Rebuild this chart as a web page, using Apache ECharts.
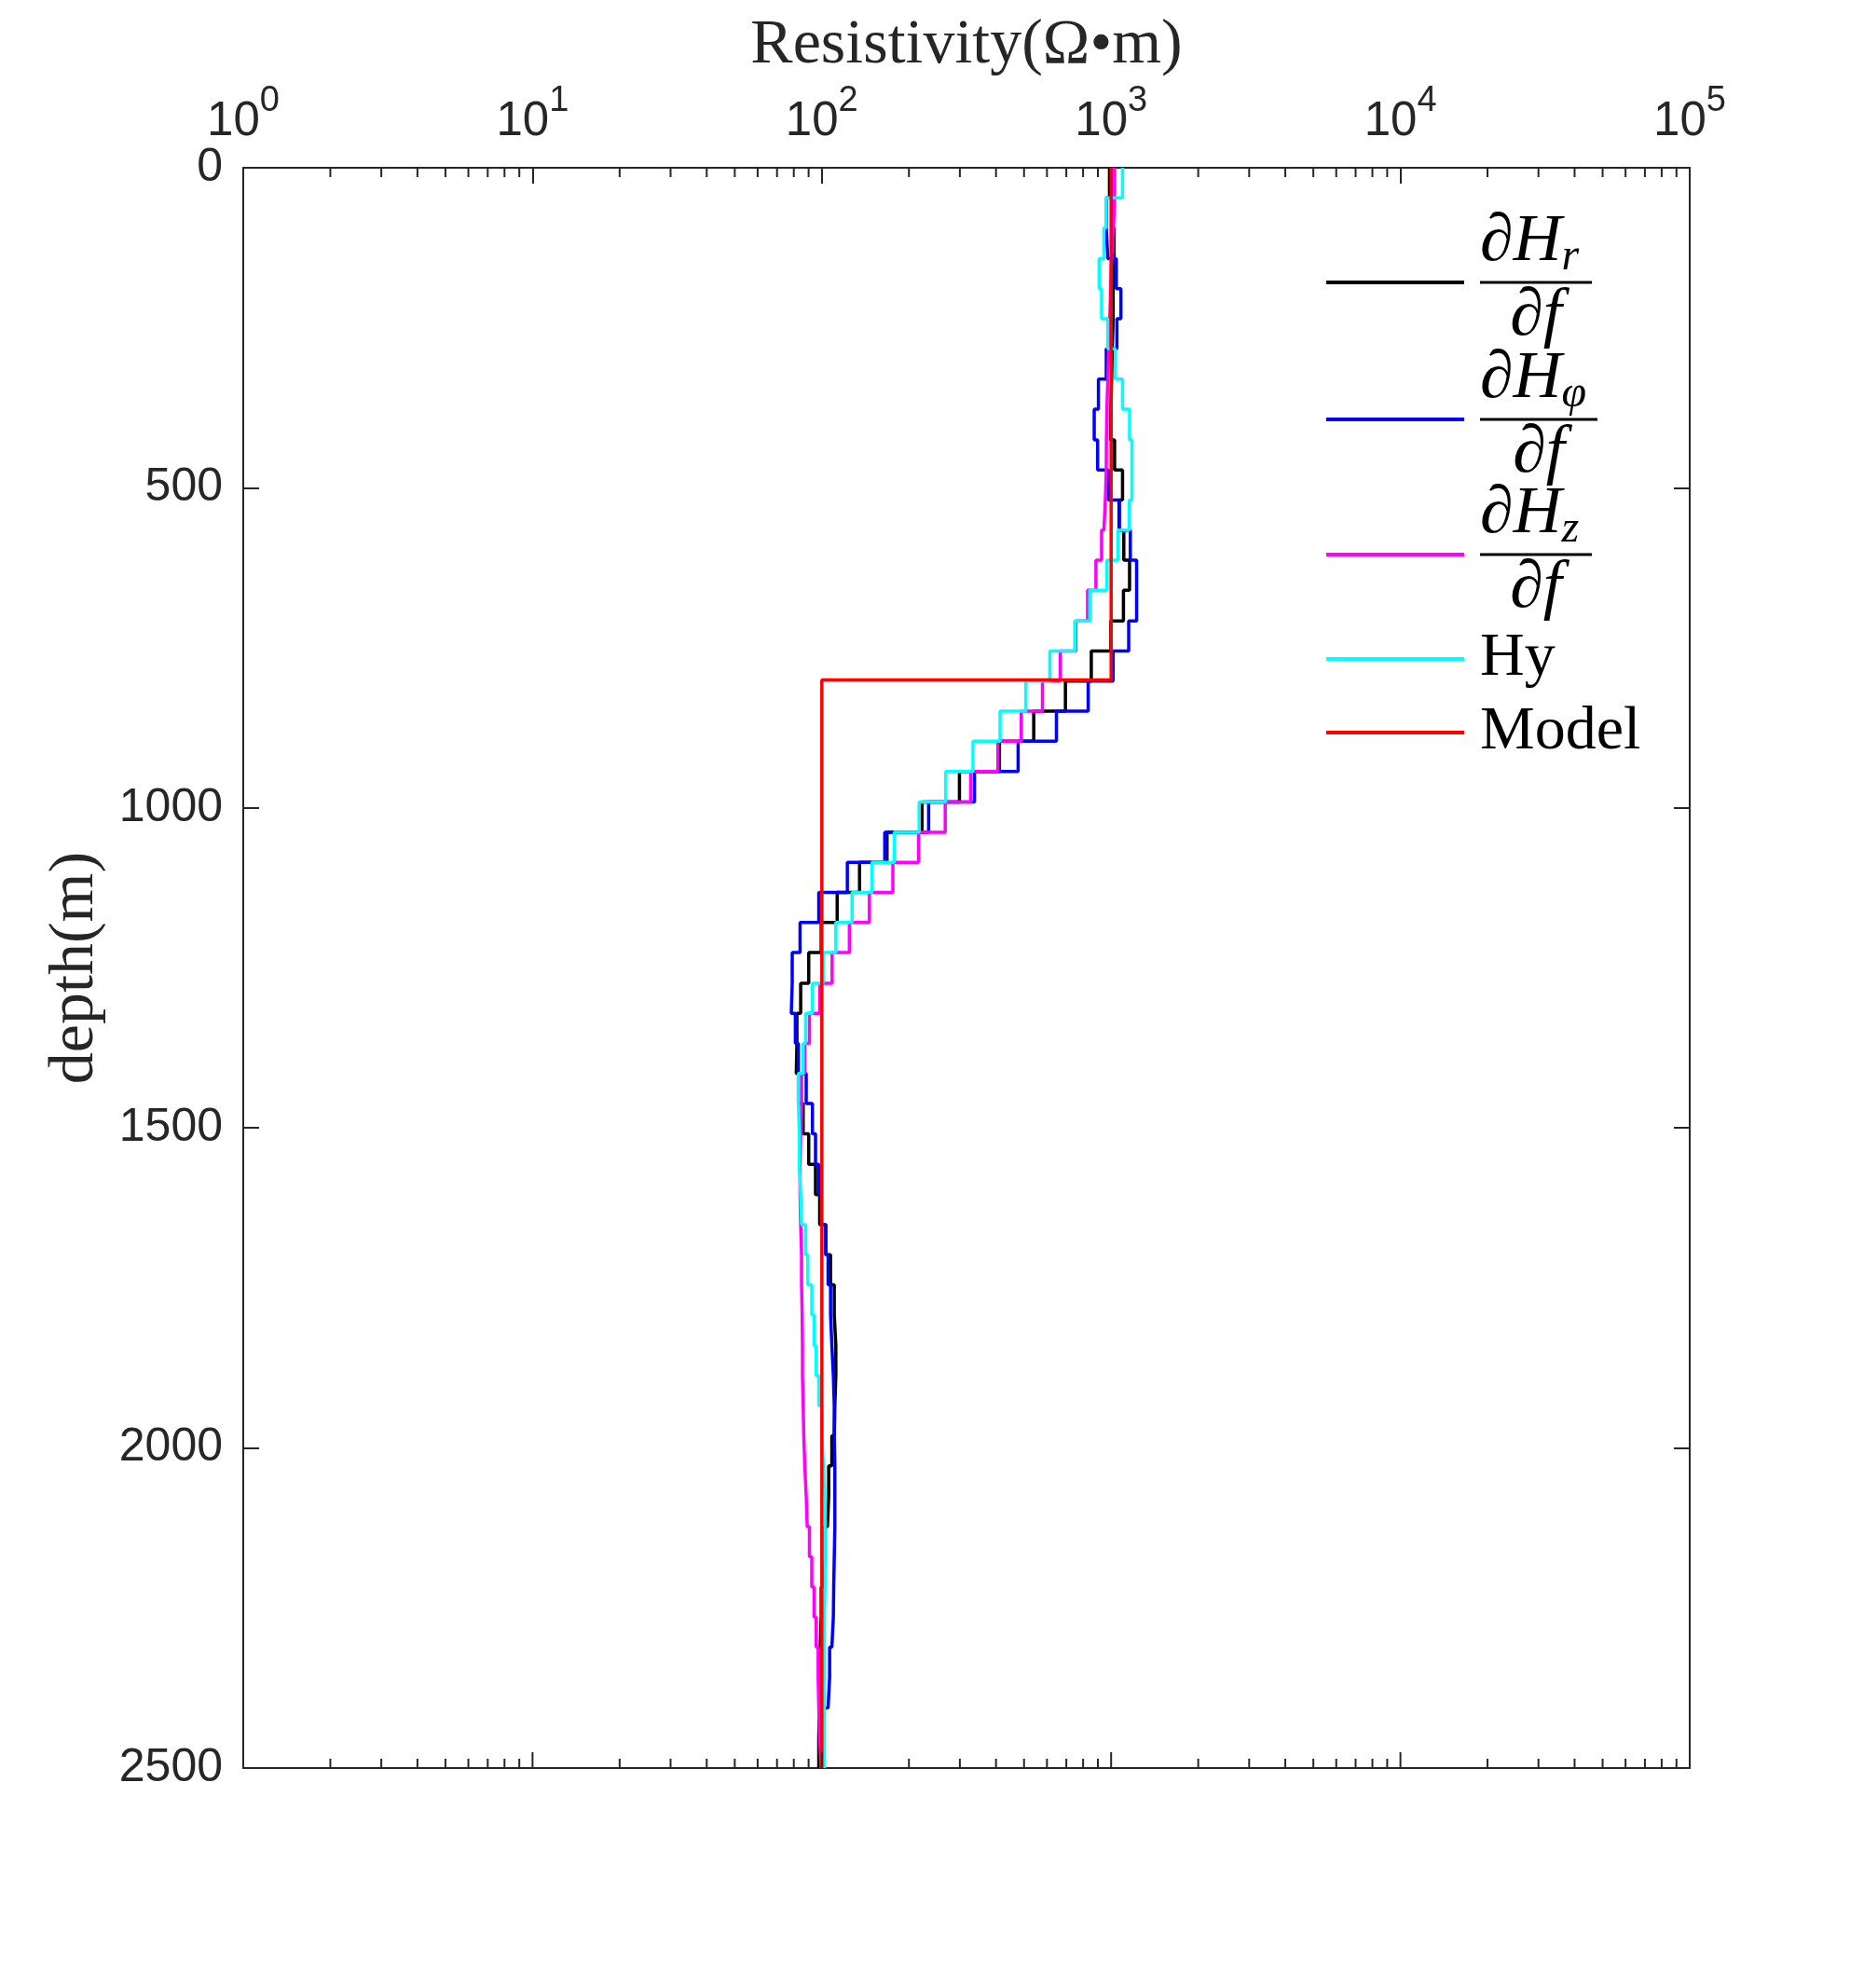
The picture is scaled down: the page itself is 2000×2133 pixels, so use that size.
<!DOCTYPE html>
<html>
<head>
<meta charset="utf-8">
<script src="https://cdn.jsdelivr.net/npm/echarts@6.0.0/dist/echarts.min.js"></script>
<style>
  html, body { margin: 0; padding: 0; background: #fff; }
  #chart { width: 2000px; height: 2133px; }
</style>
</head>
<body>
<div id="chart"></div>
<script>
// layer boundaries (m) of the inverted models
const depthEdges = [0, 47, 94, 142, 189, 236, 283, 330, 377, 425, 472, 519, 566, 613, 660, 708, 755, 802,
  849, 896, 943, 991, 1038, 1085, 1132, 1179, 1226, 1274, 1321, 1368, 1415, 1462, 1509, 1557, 1604, 1651,
  1698, 1745, 1792, 1840, 1887, 1934, 1981, 2028, 2075, 2123, 2170, 2217, 2264, 2311, 2358, 2406, 2453, 2500];

// resistivity per layer (Ohm.m)
const rhoDHr = [987, 1005, 1024, 1016, 1016, 1009, 1004, 998, 996, 1028,
  1095, 1065, 1106, 1158, 1103, 998, 854, 695, 540, 411,
  299, 222, 168, 135, 113, 99.5, 90.1, 84.5, 82, 81.6,
  83, 86.2, 90.1, 95.1, 98.3, 103.2, 107.2, 110.4, 111.8, 111.8,
  110.9, 110.4, 108.3, 105.6, 104.6, 102.5, 101.3, 99.5, 98.7, 98.3,
  98, 97.6, 97.6];
const rhoDHphi = [1003, 962, 974, 1042, 1081, 1047, 962, 904, 874, 898,
  979, 1068, 1165, 1225, 1225, 1150, 1016, 833, 647, 477,
  337, 234, 165, 122.5, 97.6, 84.1, 79.0, 78.4, 81, 83,
  88.3, 92.8, 95.1, 97.6, 99.5, 103.2, 105.1, 107.2, 108.3, 109.6,
  110.4, 110.4, 110.9, 110.9, 110.9, 110.4, 109.9, 109.6, 108.3, 106.4,
  105.1, 101.3, 101.3];
const rhoDHz = [1028, 1019, 1004, 996, 989, 981, 974, 967, 963, 962,
  955, 944, 927, 886, 829, 755, 667, 579, 489, 406,
  327, 267, 216, 176, 146, 124.5, 108.5, 98.4, 90.6, 87.3,
  85.1, 84.5, 84.1, 84.1, 84.5, 85.1, 85.1, 85.5, 85.7, 85.7,
  86.2, 86.6, 87.3, 88.3, 89, 90.6, 92.3, 94, 95.6, 97.1,
  97.6, 98.3, 99.5];
const rhoHy = [1095, 960, 944, 909, 927, 974, 1034, 1095, 1158, 1180,
  1180, 1156, 1055, 967, 844, 749, 614, 507, 413, 333,
  268, 217, 178, 149, 127.2, 111.8, 101, 92.8, 87.9, 86.2,
  83, 83.6, 83.6, 84.5, 85.1, 87.9, 89.4, 92.3, 94, 95.6,
  97.6, 100, 101.3, 102.5, 102.5, 102.5, 102.5, 102, 102, 102,
  102, 102, 102];

// true model
const modelEdges = [0, 800, 2500];
const modelRho = [1000, 100];

// log tick positions drawn by hand (minor on both sides, major on the bottom side)
const minorTicks = [2, 3, 4, 5, 6, 7, 8, 9,
  20, 30, 40, 50, 60, 70, 80, 90,
  200, 300, 400, 500, 600, 700, 800, 900,
  2000, 3000, 4000, 5000, 6000, 7000, 8000, 9000,
  20000, 30000, 40000, 50000, 60000, 70000, 80000, 90000];
const bottomMajorTicks = [10, 100, 1000, 10000];

const axisColor = '#262626';
const serif = 'Liberation Serif';
const sans = 'Liberation Sans';

function stepPoints(edges, values) {
  const pts = [];
  values.forEach((v, i) => {
    pts.push([v, edges[i]]);
    pts.push([v, edges[i + 1]]);
  });
  return pts;
}

function lineSeries(name, color, edges, values) {
  return {
    name: name,
    type: 'line',
    data: stepPoints(edges, values),
    symbol: 'none',
    showSymbol: false,
    lineStyle: { color: color, width: 3.5 },
    itemStyle: { color: color },
    animation: false,
  };
}

function tickSeries(name, values, len, topSide) {
  return {
    name: name,
    type: 'custom',
    silent: true,
    clip: false,
    z: 5,
    data: values.map(v => [v, 0]),
    renderItem(params, api) {
      const top = api.coord([api.value(0), 0]);
      const bot = api.coord([api.value(0), 2500]);
      const kids = [
        { type: 'line', shape: { x1: bot[0], y1: bot[1], x2: bot[0], y2: bot[1] - len }, style: { stroke: axisColor, lineWidth: 2 } },
      ];
      if (topSide) {
        kids.push({ type: 'line', shape: { x1: top[0], y1: top[1], x2: top[0], y2: top[1] + len }, style: { stroke: axisColor, lineWidth: 2 } });
      }
      return { type: 'group', children: kids };
    },
  };
}

const legendText = {
  dHr: '{sp| }{num|∂H}{sub|r}\n{ind| }{bar| }\n{ind| }{den|∂f}',
  dHphi: '{sp| }{num|∂H}{sub|φ}\n{ind| }{barw| }\n{ind| }{denw|∂f}',
  dHz: '{sp| }{num|∂H}{sub|z}\n{ind| }{bar| }\n{ind| }{den|∂f}',
  Hy: '{ind| }{plain|Hy}',
  Model: '{ind| }{plain|Model}',
};

const legendRich = {
  sp: { width: 12, lineHeight: 67 },
  ind: { width: 12, lineHeight: 8 },
  num: { fontFamily: serif, fontStyle: 'italic', fontSize: 72, height: 56, lineHeight: 42, verticalAlign: 'top', color: '#000' },
  sub: { fontFamily: serif, fontStyle: 'italic', fontSize: 48, height: 46, lineHeight: 40, verticalAlign: 'bottom', color: '#000' },
  bar: { width: 120, height: 3, lineHeight: 8, backgroundColor: '#000' },
  barw: { width: 126, height: 3, lineHeight: 8, backgroundColor: '#000' },
  den: { fontFamily: serif, fontStyle: 'italic', fontSize: 72, lineHeight: 67, width: 120, align: 'center', color: '#000' },
  denw: { fontFamily: serif, fontStyle: 'italic', fontSize: 72, lineHeight: 67, width: 126, align: 'center', color: '#000' },
  plain: { fontFamily: serif, fontSize: 66, lineHeight: 66, color: '#000' },
};

// one legend block per entry so each row sits where the reference has it
const legendRows = [['dHr', 224], ['dHphi', 371], ['dHz', 516], ['Hy', 674], ['Model', 753]];

const chart = echarts.init(document.getElementById('chart'));

chart.setOption({
  backgroundColor: '#fff',
  animation: false,
  grid: {
    left: 261, top: 180, width: 1552, height: 1717,
    containLabel: false, outerBoundsMode: 'none',
  },
  legend: legendRows.map(([name, top]) => ({
    orient: 'vertical',
    left: 1423,
    top: top,
    padding: 0,
    itemWidth: 148,
    itemHeight: 4,
    icon: 'rect',
    selectedMode: false,
    data: [name],
    formatter: n => legendText[n],
    textStyle: { fontFamily: serif, fontSize: 64, color: '#000', rich: legendRich },
  })),
  xAxis: [
    {
      type: 'log',
      logBase: 10,
      min: 1,
      max: 100000,
      splitNumber: 5,
      position: 'top',
      name: 'Resistivity(Ω•m)',
      nameLocation: 'middle',
      nameGap: 97,
      nameTextStyle: { fontFamily: serif, fontSize: 68, color: axisColor },
      axisLine: { show: true, onZero: false, lineStyle: { color: axisColor, width: 2 } },
      axisTick: { show: true, inside: true, length: 17, lineStyle: { color: axisColor, width: 2 } },
      minorTick: { show: false },
      splitLine: { show: false },
      axisLabel: {
        margin: 24,
        formatter: v => '{b|10}{s|' + Math.round(Math.log10(v)) + '}',
        rich: {
          b: { fontFamily: sans, fontSize: 51, lineHeight: 66, verticalAlign: 'bottom', color: axisColor },
          s: { fontFamily: sans, fontSize: 38, lineHeight: 40, verticalAlign: 'top', color: axisColor },
        },
      },
    },
    {
      type: 'log',
      logBase: 10,
      min: 1,
      max: 100000,
      splitNumber: 5,
      position: 'bottom',
      axisLine: { show: true, onZero: false, lineStyle: { color: axisColor, width: 2 } },
      axisTick: { show: false },
      splitLine: { show: false },
      axisLabel: { show: false },
    },
  ],
  yAxis: [
    {
      type: 'value',
      inverse: true,
      min: 0,
      max: 2500,
      interval: 500,
      position: 'left',
      name: 'depth(m)',
      nameLocation: 'middle',
      nameGap: 146,
      nameTextStyle: { fontFamily: serif, fontSize: 68, color: axisColor },
      axisLine: { show: true, onZero: false, lineStyle: { color: axisColor, width: 2 } },
      axisTick: { show: true, inside: true, length: 17, lineStyle: { color: axisColor, width: 2 } },
      splitLine: { show: false },
      axisLabel: { margin: 22, fontFamily: sans, fontSize: 50, color: axisColor, formatter: v => String(v) },
    },
    {
      type: 'value',
      inverse: true,
      min: 0,
      max: 2500,
      interval: 500,
      position: 'right',
      axisLine: { show: true, onZero: false, lineStyle: { color: axisColor, width: 2 } },
      axisTick: { show: true, inside: true, length: 17, lineStyle: { color: axisColor, width: 2 } },
      splitLine: { show: false },
      axisLabel: { show: false },
    },
  ],
  series: [
    lineSeries('dHr', '#000000', depthEdges, rhoDHr),
    lineSeries('dHphi', '#0000ff', depthEdges, rhoDHphi),
    lineSeries('dHz', '#ff00ff', depthEdges, rhoDHz),
    lineSeries('Hy', '#00ffff', depthEdges, rhoHy),
    lineSeries('Model', '#ff0000', modelEdges, modelRho),
    tickSeries('minorTicks', minorTicks, 10, true),
    tickSeries('majorTicks', bottomMajorTicks, 17, false),
  ],
});
</script>
</body>
</html>
